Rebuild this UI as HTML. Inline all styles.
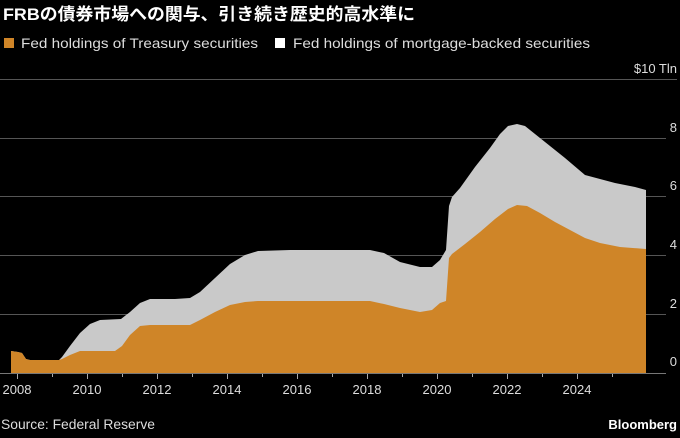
<!DOCTYPE html>
<html><head><meta charset="utf-8"><style>
body{margin:0;background:#000;width:680px;height:433px;overflow:hidden;font-family:"Liberation Sans","Noto Sans CJK JP",sans-serif;}
</style></head><body>
<svg width="680" height="433" xmlns="http://www.w3.org/2000/svg" font-family="Liberation Sans, Noto Sans CJK JP, sans-serif">
<rect width="680" height="433" fill="#000"/>
<text x="3" y="20" fill="#fff" font-size="17" font-weight="bold" textLength="412" lengthAdjust="spacingAndGlyphs">FRBの債券市場への関与、引き続き歴史的高水準に</text>
<rect x="4" y="38" width="10" height="10" fill="#cf8528"/>
<text x="21" y="48" fill="#ddd" font-size="14" textLength="237" lengthAdjust="spacingAndGlyphs">Fed holdings of Treasury securities</text>
<rect x="275" y="38" width="10" height="10" fill="#fff"/>
<text x="293" y="48" fill="#ddd" font-size="14" textLength="297" lengthAdjust="spacingAndGlyphs">Fed holdings of mortgage-backed securities</text>
<g stroke="#555" stroke-width="1">
<line x1="0" y1="79.5" x2="677" y2="79.5"/>
<line x1="0" y1="138.5" x2="666" y2="138.5"/>
<line x1="0" y1="196.5" x2="666" y2="196.5"/>
<line x1="0" y1="255.5" x2="666" y2="255.5"/>
<line x1="0" y1="314.5" x2="666" y2="314.5"/>
</g>
<g fill="#ddd" font-size="13" text-anchor="end">
<text x="677" y="73">$10 Tln</text>
<text x="677" y="132">8</text>
<text x="677" y="190">6</text>
<text x="677" y="249">4</text>
<text x="677" y="308">2</text>
<text x="677" y="366">0</text>
</g>
<polygon fill="#c9c9c9" points="11,373 11,351 18,352 22,353 26,359 30,360 59,360 62,357 70,346 80,333 90,324 100,320 121,319 130,312 140,303 150,299 175,299 190,298 200,292 215,278 230,264 245,255 258,251 290,250 370,250 384,253 400,262 420,267 432,267 440,260 446,250 449,206 452,197 460,188 475,167 490,148 500,134 508,126 517,124 525,126 545,142 565,158 585,175 600,179 615,183 635,187 646,190 646,373"/>
<polygon fill="#cf8528" points="11,373 11,351 18,352 22,353 26,359 30,360 59,360 62,359 70,355 80,351 115,351 122,346 130,335 140,326 150,325 180,325 190,325 200,320 215,312 230,305 245,302 258,301 370,301 384,304 400,308 420,312 432,310 440,303 446,301 449,258 452,254 465,244 480,232 495,219 508,209 517,205 527,206 540,213 555,222 570,230 585,238 600,243 620,247 646,249 646,373"/>
<line x1="0" y1="373.5" x2="666" y2="373.5" stroke="#777"/>
<g stroke="#aaa">
<line x1="17.5" y1="374" x2="17.5" y2="379"/><line x1="52.5" y1="374" x2="52.5" y2="377"/>
<line x1="87.5" y1="374" x2="87.5" y2="379"/><line x1="122.5" y1="374" x2="122.5" y2="377"/>
<line x1="157.5" y1="374" x2="157.5" y2="379"/><line x1="192.5" y1="374" x2="192.5" y2="377"/>
<line x1="227.5" y1="374" x2="227.5" y2="379"/><line x1="262.5" y1="374" x2="262.5" y2="377"/>
<line x1="297.5" y1="374" x2="297.5" y2="379"/><line x1="332.5" y1="374" x2="332.5" y2="377"/>
<line x1="367.5" y1="374" x2="367.5" y2="379"/><line x1="402.5" y1="374" x2="402.5" y2="377"/>
<line x1="437.5" y1="374" x2="437.5" y2="379"/><line x1="472.5" y1="374" x2="472.5" y2="377"/>
<line x1="507.5" y1="374" x2="507.5" y2="379"/><line x1="542.5" y1="374" x2="542.5" y2="377"/>
<line x1="577.5" y1="374" x2="577.5" y2="379"/><line x1="612.5" y1="374" x2="612.5" y2="377"/>
</g>
<g fill="#ddd" font-size="13" text-anchor="middle">
<text x="17" y="394">2008</text><text x="87" y="394">2010</text><text x="157" y="394">2012</text>
<text x="227" y="394">2014</text><text x="297" y="394">2016</text><text x="367" y="394">2018</text>
<text x="437" y="394">2020</text><text x="507" y="394">2022</text><text x="577" y="394">2024</text>
</g>
<text x="1" y="429" fill="#ddd" font-size="13.5" textLength="154" lengthAdjust="spacingAndGlyphs">Source: Federal Reserve</text>
<text x="677" y="429" fill="#fff" font-size="13" font-weight="bold" text-anchor="end">Bloomberg</text>
</svg>
</body></html>
